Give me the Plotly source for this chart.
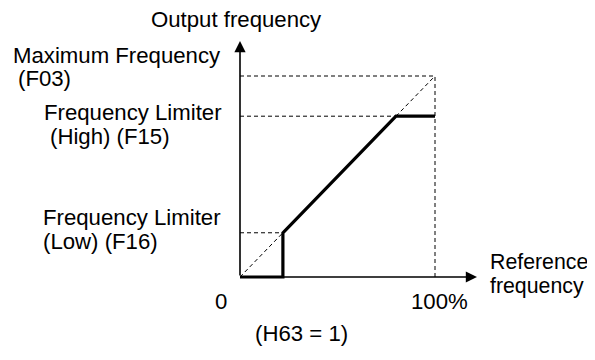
import plotly.graph_objects as go

# ---- data (percent of maximum) ----
ref_pct = [0, 22, 22, 80, 100]          # reference frequency
out_pct = [0, 0, 22, 80, 80]            # output frequency (H63 = 1)
max_freq = 100                          # Maximum Frequency (F03)
limit_high = 80                         # Frequency Limiter (High) (F15)
limit_low = 22                          # Frequency Limiter (Low) (F16)
x_ticks = [0, 100]
x_tick_labels = ["0", "100%"]

# the page body has an 8px margin, so the figure is laid out 8px smaller
PAGE_OFF = 8
W, H = 595 - PAGE_OFF, 360 - PAGE_OFF
FONT = "Liberation Sans, Arial, Helvetica, sans-serif"
FS = 22.2


def PX(v):
    return v - PAGE_OFF


# pixel mapping for the plot (window pixels): x 0->240px, 100->435px ; y 0->277px, 100->76px
x0px, x100px = PX(240), PX(435)
y0px, y100px = PX(277), PX(76)
sx = (x100px - x0px) / 100.0
sy = (y0px - y100px) / 100.0
xrange = [-x0px / sx, (W - x0px) / sx]
yrange = [(y0px - H) / sy, y0px / sy]

fig = go.Figure()

dash_line = dict(color="black", width=1, dash="4px,3px")

# dashed guides
fig.add_trace(go.Scatter(x=[0, max_freq], y=[0, max_freq], mode="lines", line=dash_line, hoverinfo="skip"))
fig.add_trace(go.Scatter(x=[0, max_freq, max_freq], y=[max_freq, max_freq, 0], mode="lines", line=dash_line, hoverinfo="skip"))
fig.add_trace(go.Scatter(x=[0, limit_high], y=[limit_high, limit_high], mode="lines", line=dash_line, hoverinfo="skip"))
fig.add_trace(go.Scatter(x=[0, limit_low], y=[limit_low, limit_low], mode="lines", line=dash_line, hoverinfo="skip"))

# characteristic
fig.add_trace(go.Scatter(x=ref_pct, y=out_pct, mode="lines",
                         line=dict(color="black", width=3.2), hoverinfo="skip"))

# axes with arrows
x_tip = (PX(477) - x0px) / sx
y_tip = (y0px - PX(41)) / sy
fig.add_annotation(x=x_tip, y=0, ax=0, ay=0, xref="x", yref="y", axref="x", ayref="y",
                   showarrow=True, arrowhead=2, arrowsize=1.4, arrowwidth=1.6, arrowcolor="black", text="")
fig.add_annotation(x=0, y=y_tip, ax=0, ay=0, xref="x", yref="y", axref="x", ayref="y",
                   showarrow=True, arrowhead=2, arrowsize=1.4, arrowwidth=1.6, arrowcolor="black", text="")


def label(text, px, py, xanchor="left", size=FS):
    fig.add_annotation(x=PX(px) / W, y=1 - PX(py) / H, xref="paper", yref="paper", text=text,
                       showarrow=False, xanchor=xanchor, yanchor="middle", borderpad=0,
                       font=dict(family=FONT, size=size, color="black"))


label("Output frequency", 236, 19.5, "center")
label("Maximum Frequency", 12, 55.3)
label("(F03)", 17, 79)
label("Frequency Limiter", 43, 112.8)
label("(High) (F15)", 49, 136.3)
label("Frequency Limiter", 42, 217.5)
label("(Low) (F16)", 42, 241)
label("Reference", 489, 262, size=21.3)
label("frequency", 489, 286, size=21.3)
label("(H63 = 1)", 302, 333, "center")

# x tick labels
for v, t in zip(x_ticks, x_tick_labels):
    px = 240 + v * 1.95 + (-19.5 if v == 0 else 4)
    label(t, px, 301, "center")

fig.update_layout(
    width=W, height=H, autosize=False,
    margin=dict(l=0, r=0, t=0, b=0),
    paper_bgcolor="white", plot_bgcolor="white",
    showlegend=False,
    xaxis=dict(range=xrange, visible=False, fixedrange=True),
    yaxis=dict(range=yrange, visible=False, fixedrange=True),
)

fig.write_html("out.html", config={"displayModeBar": False})
